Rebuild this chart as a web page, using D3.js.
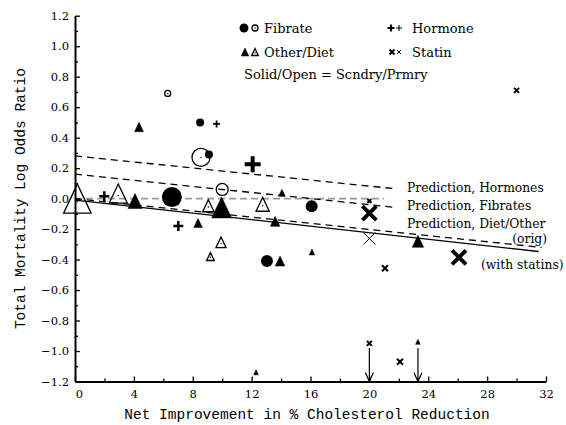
<!DOCTYPE html>
<html>
<head>
<meta charset="utf-8">
<script src="https://cdn.jsdelivr.net/npm/d3@7"></script>
<style>
body { margin: 0; background: #fff; }
svg { display: block; }
</style>
</head>
<body>
<div id="chart"></div>
<script>
// Fibrate trials (circles)
const fibX = [6.3, 8.5, 9.1, 8.56, 10.0, 6.58, 16.08, 13.04];
const fibY = [0.69, 0.50, 0.29, 0.27, 0.06, 0.01, -0.05, -0.41];
const fibW = [3, 4, 4, 9, 6, 10, 6, 6];
const fibSolid = [0, 1, 1, 0, 0, 1, 1, 1];

// Other / diet trials (triangles)
const dietX = [0.16, 2.94, 4.08, 9.06, 9.96, 12.75, 13.6, 8.36, 9.92, 9.2, 13.93, 16.1, 23.3, 12.3, 23.3, 4.35, 14.06];
const dietY = [0.0, 0.033, -0.016, -0.047, -0.058, -0.037, -0.149, -0.16, -0.287, -0.38, -0.41, -0.35, -0.28, -1.14, -0.94, 0.47, 0.038];
const dietW = [14.5, 9.5, 7.5, 6, 10.5, 7, 5, 4.5, 5.3, 4, 5, 3, 6, 2.5, 2.5, 4.7, 3.5];
const dietSolid = [0, 0, 1, 0, 1, 0, 1, 1, 0, 0, 1, 1, 1, 1, 1, 1, 1];

// Hormone trials (plus)
const hormX = [9.62, 12.07, 1.99, 7.02];
const hormY = [0.49, 0.225, 0.015, -0.18];
const hormW = [3.5, 8, 5, 5];

// Statin trials (cross)
const statX = [30.0, 20.0, 20.0, 20.0, 21.06, 26.09, 20.0, 22.08];
const statY = [0.71, -0.016, -0.095, -0.262, -0.457, -0.385, -0.95, -1.07];
const statW = [2.5, 2, 7, 6, 3, 7, 2.5, 3];
const statSolid = [1, 1, 1, 0, 1, 1, 1, 1];

// off-scale arrows (x, from y, to y)
const arrowX = [20.0, 23.3];
const arrowFrom = [-0.98, -0.98];
const arrowTo = [-1.2, -1.2];

// regression lines
const lineNames = ["Prediction, Hormones", "Prediction, Fibrates", "Prediction, Diet/Other", "(with statins)"];
const lineB0 = [0.28, 0.16, 0.0, -0.01];
const lineB1 = [-0.0099, -0.01, -0.0101, -0.0107];
const lineEnd = [21.87, 21.87, 31.7, 31.5];
const refLineEnd = 21;

const xTicks = [0, 4, 8, 12, 16, 20, 24, 28, 32];
const yTicks = [-1.2, -1.0, -0.8, -0.6, -0.4, -0.2, 0.0, 0.2, 0.4, 0.6, 0.8, 1.0, 1.2];

const W = 566, H = 425;
const serif = "'DejaVu Serif', 'Liberation Serif', serif";
const mono = "'Liberation Mono', monospace";

const svg = d3.select("#chart").append("svg")
	.attr("width", W)
	.attr("height", H)
	.style("background", "#fff");

const x = d3.scaleLinear().domain([0, 32]).range([75, 546]);
const y = d3.scaleLinear().domain([-1.2, 1.2]).range([381.5, 15.7]);
const size = d3.scaleLinear().domain([0, 10]).range([0, 10]);

// reference line at zero
svg.append("line")
	.attr("x1", x(0)).attr("x2", x(refLineEnd))
	.attr("y1", y(0)).attr("y2", y(0))
	.attr("stroke", "#9a9a9a")
	.attr("stroke-width", 1.6)
	.attr("stroke-dasharray", "7,4");

// prediction lines
lineNames.forEach((n, i) => {
	svg.append("line")
		.attr("x1", x(0)).attr("y1", y(lineB0[i]))
		.attr("x2", x(lineEnd[i])).attr("y2", y(lineB0[i] + lineB1[i] * lineEnd[i]))
		.attr("stroke", "#000")
		.attr("stroke-width", 1.3)
		.attr("stroke-dasharray", i == 3 ? null : "7,5");
});

const labels = svg.append("g")
	.style("font-family", serif)
	.style("font-size", "12.3px")
	.attr("fill", "#000");
labels.append("text").attr("x", 407).attr("y", 188).attr("dy", "0.35em").text(lineNames[0]);
labels.append("text").attr("x", 407).attr("y", 206).attr("dy", "0.35em").text(lineNames[1]);
labels.append("text").attr("x", 407).attr("y", 224).attr("dy", "0.35em").text(lineNames[2]);
labels.append("text").attr("x", 547).attr("y", 239).attr("dy", "0.35em").attr("text-anchor", "end").text("(orig)");
labels.append("text").attr("x", 481).attr("y", 265).attr("dy", "0.35em").text(lineNames[3]);

// marker helpers
function circ(g, cx, cy, r, solid) {
	g.append("circle")
		.attr("cx", cx).attr("cy", cy).attr("r", r)
		.attr("fill", solid ? "#000" : "none")
		.attr("stroke", "#000")
		.attr("stroke-width", solid ? 0 : 1.3);
	if (!solid) g.append("circle").attr("cx", cx).attr("cy", cy).attr("r", 0.7).attr("fill", "#000");
}
function tri(g, cx, cy, h, solid) {
	const hw = h * 0.95;
	g.append("path")
		.attr("d", `M${cx},${cy - h}L${cx + hw},${cy + h}L${cx - hw},${cy + h}Z`)
		.attr("fill", solid ? "#000" : "none")
		.attr("stroke", "#000")
		.attr("stroke-linejoin", "miter")
		.attr("stroke-width", solid ? 0.5 : 1.3);
	if (!solid) g.append("circle").attr("cx", cx).attr("cy", cy + h * 0.2).attr("r", 0.7).attr("fill", "#000");
}
function plus(g, cx, cy, a, sw) {
	g.append("path")
		.attr("d", `M${cx - a},${cy}H${cx + a}M${cx},${cy - a}V${cy + a}`)
		.attr("stroke", "#000")
		.attr("stroke-width", sw);
}
function cross(g, cx, cy, a, sw) {
	g.append("path")
		.attr("d", `M${cx - a},${cy - a}L${cx + a},${cy + a}M${cx - a},${cy + a}L${cx + a},${cy - a}`)
		.attr("stroke", "#000")
		.attr("stroke-width", sw);
}

const marks = svg.append("g");
fibX.forEach((v, i) => circ(marks, x(v), y(fibY[i]), size(fibW[i]), fibSolid[i]));
dietX.forEach((v, i) => tri(marks, x(v), y(dietY[i]), size(dietW[i]), dietSolid[i]));
hormX.forEach((v, i) => plus(marks, x(v), y(hormY[i]), size(hormW[i]), Math.max(1.8, size(hormW[i]) * 0.5)));
statX.forEach((v, i) => cross(marks, x(v), y(statY[i]), size(statW[i]),
	statSolid[i] ? Math.max(2, size(statW[i]) * 0.55) : 1));

// arrows for off-scale values
arrowX.forEach((v, i) => {
	const ax = x(v), y0 = y(arrowFrom[i]), y1 = y(arrowTo[i]);
	svg.append("path")
		.attr("d", `M${ax},${y0}V${y1}M${ax - 4},${y1 - 9}L${ax},${y1}L${ax + 4},${y1 - 9}`)
		.attr("fill", "none")
		.attr("stroke", "#000")
		.attr("stroke-width", 1.2);
});

// axes
const xAxis = d3.axisBottom(x).tickValues(xTicks).tickSizeInner(-5).tickSizeOuter(0).tickPadding(8).tickFormat(d3.format("d"));
const yAxis = d3.axisLeft(y).tickValues(yTicks).tickSizeInner(-5).tickSizeOuter(0).tickPadding(6).tickFormat(d3.format(".1f"));

const gx = svg.append("g").attr("transform", `translate(0,${y(-1.2)})`).call(xAxis);
const gy = svg.append("g").attr("transform", `translate(${x(0)},0)`).call(yAxis);

svg.append("g").attr("transform", `translate(0,${y(-1.2)})`)
	.call(d3.axisBottom(x).tickValues(d3.range(2, 32, 4)).tickSize(-3).tickFormat(""))
	.select(".domain").remove();
svg.append("g").attr("transform", `translate(${x(0)},0)`)
	.call(d3.axisLeft(y).tickValues(d3.range(-11, 12, 2).map(d => d / 10)).tickSize(-3).tickFormat(""))
	.select(".domain").remove();

svg.selectAll(".domain").attr("stroke-width", 2);
svg.selectAll(".tick line").attr("stroke-width", 1.3);
svg.selectAll(".tick text")
	.style("font-family", serif)
	.style("font-size", "11.5px")
	.attr("fill", "#000");
gx.selectAll(".tick text").filter(d => d == 0).attr("dx", 4);

// axis titles
svg.append("text")
	.attr("x", 307).attr("y", 414)
	.attr("dy", "0.35em")
	.attr("text-anchor", "middle")
	.style("font-family", mono)
	.style("font-size", "14.5px")
	.text("Net Improvement in % Cholesterol Reduction");
svg.append("text")
	.attr("transform", `translate(20,${y(0)}) rotate(-90)`)
	.attr("dy", "0.35em")
	.attr("text-anchor", "middle")
	.style("font-family", mono)
	.style("font-size", "14.5px")
	.text("Total Mortality Log Odds Ratio");

// legend
const leg = svg.append("g");
circ(leg, 244, 28, 4.5, 1);
circ(leg, 255, 28, 3, 0);
tri(leg, 245, 52, 4, 1);
tri(leg, 255, 52, 3.5, 0);
plus(leg, 391, 28, 3.5, 2.2);
plus(leg, 399, 28, 3, 1.1);
cross(leg, 392, 52, 2.5, 2);
cross(leg, 399, 52, 2, 1);
const legText = leg.append("g")
	.style("font-family", serif)
	.style("font-size", "13px");
legText.append("text").attr("x", 264).attr("y", 28).attr("dy", "0.35em").text("Fibrate");
legText.append("text").attr("x", 264).attr("y", 52).attr("dy", "0.35em").text("Other/Diet");
legText.append("text").attr("x", 244).attr("y", 74).attr("dy", "0.35em").text("Solid/Open = Scndry/Prmry");
legText.append("text").attr("x", 412).attr("y", 28).attr("dy", "0.35em").text("Hormone");
legText.append("text").attr("x", 412).attr("y", 52).attr("dy", "0.35em").text("Statin");
</script>
</body>
</html>
